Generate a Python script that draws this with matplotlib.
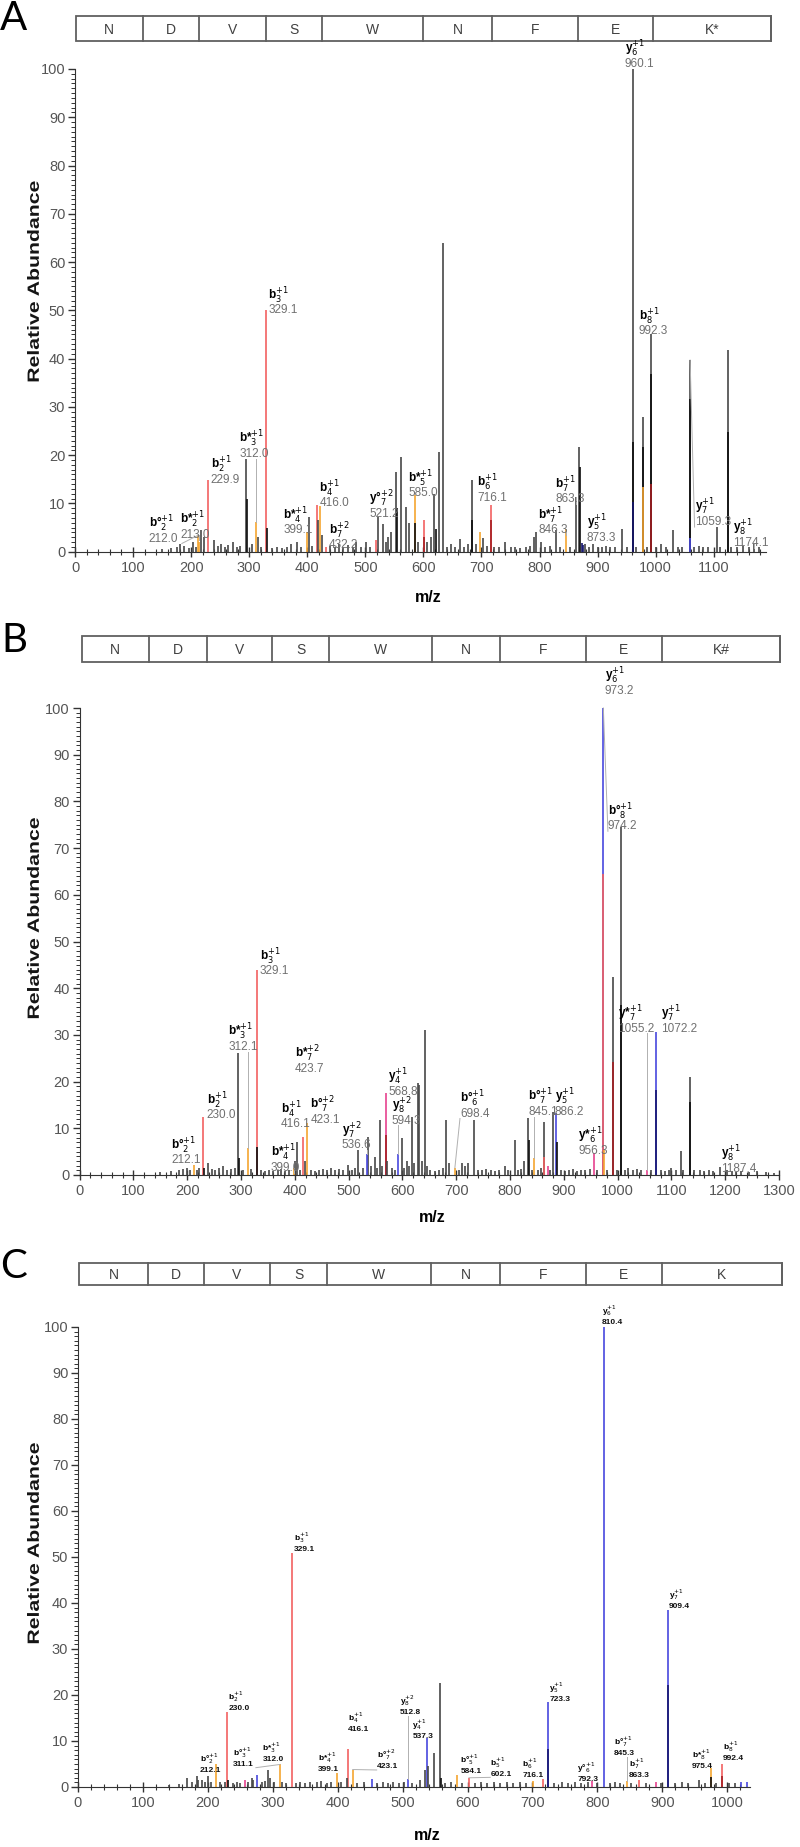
import matplotlib.pyplot as plt
from matplotlib.patches import Rectangle, PathPatch
from matplotlib.ticker import MultipleLocator
from matplotlib.textpath import TextPath
from matplotlib.font_manager import FontProperties
from matplotlib.transforms import Affine2D, IdentityTransform

plt.rcParams["font.family"] = ["Liberation Sans", "DejaVu Sans"]

W, H = 800, 1847

COLORS = {"other": "#474747", "dark": "#0d0d0d", "b": "#f26161", "b_dark": "#a51e22",
          "b_loss": "#f5a530", "y": "#4848de", "y_dark": "#16166e", "pink": "#e6428f"}

# ---------------- panel A : NDVSWNFEK* ----------------
a_residues = ["N", "D", "V", "S", "W", "N", "F", "E", "K*"]

a_other_mz = [150, 165, 176, 181, 188, 196, 203, 208, 217, 222,
              240, 246, 252, 258, 264, 272, 279, 285, 294.7, 304,
              315, 320, 340, 348, 356, 365, 372, 382, 389, 403.6,
              409, 418, 425, 440, 447, 455, 462, 470, 478, 484,
              492, 501, 508, 521.2, 530, 535, 538.4, 544, 552.7, 561.3,
              570, 575.7, 590, 607, 613, 618.7, 626, 633, 640, 648,
              655, 662.5, 670, 676, 682.9, 690, 703.3, 709, 722, 730,
              741, 750, 758, 766, 776, 783, 790, 793.6, 802, 810,
              818, 828.5, 835, 852, 863.4, 868, 878, 885, 892.6, 900,
              908, 915, 922, 930, 942, 950, 960.1, 966, 978, 985,
              992.3, 1000, 1010, 1018, 1030, 1038, 1045, 1059.3, 1066, 1075,
              1082, 1090, 1105, 1111, 1124, 1130, 1140, 1150, 1160, 1170,
              1178]
a_other_int = [0.6, 0.8, 1.0, 1.5, 1.2, 0.8, 2.0, 1.0, 4.5, 3.0,
               2.5, 1.2, 1.5, 1.0, 1.4, 2.0, 1.0, 1.2, 19.3, 1.5,
               3.0, 1.0, 0.8, 1.0, 0.7, 1.0, 1.5, 2.0, 1.0, 7.1,
               1.2, 6.5, 3.5, 1.2, 1.0, 1.5, 1.0, 1.3, 1.0, 2.0,
               1.0, 2.0, 1.0, 7.1, 5.7, 2.0, 3.0, 4.0, 16.6, 19.7,
               9.3, 6.0, 2.0, 2.0, 3.0, 12.0, 20.7, 64.0, 1.0, 1.5,
               1.0, 2.6, 1.0, 1.5, 14.8, 1.5, 2.8, 1.2, 1.0, 1.0,
               2.0, 1.0, 1.0, 0.8, 1.0, 1.2, 3.0, 4.1, 2.0, 1.0,
               1.2, 4.5, 1.0, 1.0, 11.4, 21.7, 1.5, 1.0, 1.5, 1.0,
               1.0, 1.2, 1.0, 1.0, 4.8, 1.0, 100.0, 1.0, 28.0, 1.0,
               45.2, 1.0, 1.5, 1.0, 4.5, 1.0, 1.0, 39.7, 1.0, 1.2,
               1.0, 1.0, 5.2, 1.0, 41.7, 1.0, 1.0, 1.2, 1.0, 1.5,
               1.0]
a_dark_mz = [296, 330, 554.5, 585.0, 621.6, 684, 870, 960.1, 978, 992.3, 1059.3, 1124]
a_dark_int = [11.0, 5.0, 9.0, 6.0, 4.8, 6.5, 17.6, 22.8, 21.7, 36.9, 31.7, 24.8]
a_b_mz = [229.9, 329.1, 416.0, 432.2, 518, 601.5, 716.1]
a_b_int = [14.8, 50.0, 9.7, 1.0, 2.5, 6.6, 9.7]
a_bdark_mz = [601.5, 716.1, 992.3]
a_bdark_int = [3.0, 6.5, 14.1]
a_bloss_mz = [212.0, 213.0, 312.0, 399.1, 422.6, 585.0, 697.5, 846.3, 978]
a_bloss_int = [3.4, 2.0, 6.2, 4.1, 9.4, 11.7, 4.1, 4.8, 13.4]
a_y_mz = [1059.3]
a_y_int = [2.8]
a_ydark_mz = [873.3, 875.5, 960.1]
a_ydark_int = [1.7, 1.4, 10.3]

a_lab_ion = ["b°", "b*", "b", "b*", "b", "b*", "b", "b", "y°", "b*", "b", "b*", "b", "y", "y", "b", "y", "y"]
a_lab_num = [2, 2, 2, 3, 3, 4, 4, 7, 7, 5, 6, 7, 7, 5, 6, 8, 7, 8]
a_lab_z = [1, 1, 1, 1, 1, 1, 1, 2, 2, 1, 1, 1, 1, 1, 1, 1, 1, 1]
a_lab_val = ["212.0", "213.0", "229.9", "312.0", "329.1", "399.1", "416.0", "432.2", "521.2",
             "585.0", "716.1", "846.3", "863.3", "873.3", "960.1", "992.3", "1059.3", "1174.1"]

# ---------------- panel B : NDVSWNFEK# ----------------
b_residues = ["N", "D", "V", "S", "W", "N", "F", "E", "K#"]

b_other_mz = [150, 170, 185, 192, 200, 205, 218, 222, 239, 246,
              252, 259.7, 267, 274, 281, 288, 295, 303, 318, 338,
              345, 352, 360, 368, 375, 382, 390, 400.9, 404.6, 410,
              419.5, 430, 438, 445, 452, 460, 468, 475, 483, 490,
              499.3, 506, 512, 518, 526, 536.5, 542, 548.9, 553, 558,
              562, 572, 580, 586, 598.4, 603, 607.7, 612, 617, 622,
              629.4, 631, 636, 641.8, 645, 652, 660, 668, 675, 681,
              686, 705, 711, 716, 722, 733.7, 740, 748, 756, 764,
              772, 780, 790.7, 797, 809, 815, 820, 826.5, 834, 840,
              852, 858, 863.7, 875, 880.4, 895, 902, 910, 918, 925,
              932, 940, 948, 962, 980, 991.8, 998, 1007.2, 1014, 1020,
              1028, 1036, 1044, 1062, 1080, 1088, 1095, 1100, 1108, 1117.4,
              1122, 1134, 1142, 1152.7, 1160, 1170, 1178, 1190, 1203, 1212,
              1220, 1230, 1245, 1260, 1275, 1290]
b_other_int = [0.6, 0.8, 1.0, 1.2, 1.5, 1.0, 1.0, 1.5, 2.5, 1.2,
               1.0, 1.5, 2.0, 1.0, 1.2, 1.5, 26.1, 1.0, 1.2, 1.0,
               0.8, 1.0, 0.8, 1.0, 1.2, 0.8, 1.0, 2.9, 7.1, 1.0,
               3.0, 1.0, 0.8, 1.0, 1.2, 1.0, 1.5, 1.0, 1.2, 1.0,
               2.1, 1.0, 1.5, 5.4, 1.5, 8.2, 2.0, 3.9, 1.5, 11.8,
               2.0, 3.0, 1.5, 1.0, 7.9, 1.5, 3.0, 2.0, 12.5, 2.5,
               19.6, 19.3, 3.0, 31.0, 2.0, 1.0, 0.8, 1.0, 1.5, 11.8,
               2.5, 1.0, 2.5, 2.0, 2.5, 11.8, 1.0, 1.0, 1.2, 1.0,
               0.8, 1.0, 2.0, 1.0, 7.4, 1.0, 1.2, 3.0, 12.1, 1.0,
               1.0, 1.5, 11.4, 1.0, 13.4, 1.0, 0.8, 1.0, 1.2, 0.8,
               1.0, 1.0, 1.2, 1.0, 1.0, 42.5, 1.0, 74.6, 1.0, 1.5,
               1.0, 1.2, 1.0, 1.0, 1.0, 0.8, 1.0, 1.5, 1.0, 5.2,
               1.0, 20.9, 1.0, 1.0, 0.8, 1.0, 0.8, 1.8, 1.0, 0.8,
               0.6, 0.8, 0.6, 0.8, 0.6, 0.5]
b_dark_mz = [232, 296, 330, 835.8, 888, 1007.2, 1134]
b_dark_int = [1.5, 3.6, 6.1, 7.5, 7.1, 36.4, 15.7]
b_b_mz = [230.0, 329.1, 416.1, 863.7, 973.5]
b_b_int = [12.5, 44.0, 8.2, 3.9, 64.5]
b_bdark_mz = [568.8, 991.8]
b_bdark_int = [8.6, 24.3]
b_bloss_mz = [212.1, 312.1, 399.0, 423.1, 697.5, 845.1, 974.2]
b_bloss_int = [2.1, 5.7, 1.4, 11.1, 1.5, 3.6, 5.4]
b_y_mz = [534.6, 592.2, 886.2, 973.2, 1072.2]
b_y_int = [4.6, 4.6, 13.2, 100.0, 30.7]
b_ydark_mz = [1072.2]
b_ydark_int = [18.2]
b_pink_mz = [568.8, 869.9, 956.3, 1055.2]
b_pink_int = [17.5, 2.0, 4.8, 1.0]

b_lab_ion = ["b°", "b", "b*", "b", "b*", "b", "b*", "b°", "y", "y", "y", "b°", "b°", "y", "y*", "y",
             "b°", "y*", "y", "y"]
b_lab_num = [2, 2, 3, 3, 4, 4, 7, 7, 7, 4, 8, 6, 7, 5, 6, 6, 8, 7, 7, 8]
b_lab_z = [1, 1, 1, 1, 1, 1, 2, 2, 2, 1, 2, 1, 1, 1, 1, 1, 1, 1, 1, 1]
b_lab_val = ["212.1", "230.0", "312.1", "329.1", "399.0", "416.1", "423.7", "423.1", "536.6", "568.8",
             "594.3", "698.4", "845.1", "886.2", "956.3", "973.2", "974.2", "1055.2", "1072.2", "1187.4"]

# ---------------- panel C : NDVSWNFEK ----------------
c_residues = ["N", "D", "V", "S", "W", "N", "F", "E", "K"]

c_other_mz = [140, 155, 167.4, 175, 182.8, 185, 190.5, 196, 200.7, 205,
              218.7, 226.4, 238, 245, 250, 262, 267.5, 269, 282.9, 288,
              293.1, 295.7, 302, 313.7, 320, 335, 342, 350, 357, 367.6,
              375, 383, 390, 405, 413.8, 430, 440, 460, 470, 478,
              485.6, 495, 502, 515, 526.7, 534.4, 539.5, 548.3, 557.5, 566,
              574, 592, 612, 620, 630, 640, 650, 660, 670, 680,
              690, 733, 745, 755, 765, 775, 785, 800, 820, 827.7,
              835, 852, 875, 898, 920, 930, 940, 956, 965, 983,
              1003, 1012]
c_other_int = [0.5, 0.6, 2.0, 1.0, 2.5, 1.5, 1.5, 1.0, 2.3, 1.0,
               1.0, 1.0, 0.8, 1.0, 0.8, 1.0, 2.0, 1.5, 1.0, 1.2,
               3.6, 2.0, 1.0, 1.0, 0.8, 0.8, 1.0, 0.8, 1.0, 1.0,
               1.2, 0.8, 1.0, 1.0, 2.0, 0.8, 1.0, 0.8, 1.0, 0.8,
               1.0, 0.8, 1.0, 0.8, 1.5, 3.8, 4.5, 7.4, 22.6, 0.8,
               1.0, 0.8, 0.8, 1.0, 0.8, 1.0, 0.8, 1.0, 0.8, 1.0,
               0.8, 0.8, 1.0, 0.8, 1.0, 0.8, 1.0, 0.8, 0.8, 1.0,
               0.8, 0.8, 0.8, 0.8, 0.8, 1.0, 0.8, 1.5, 0.8, 0.8,
               0.8, 0.8]
c_dark_mz = [231.5, 558.5, 975.4]
c_dark_int = [1.6, 2.0, 2.2]
c_b_mz = [230.0, 329.1, 416.1, 602.1, 716.1, 863.3, 992.4]
c_b_int = [16.4, 50.9, 8.3, 2.0, 1.8, 1.6, 5.1]
c_bdark_mz = [992.4]
c_bdark_int = [2.5]
c_bloss_mz = [212.1, 311.1, 399.1, 423.1, 584.1, 700.9, 845.3, 975.4]
c_bloss_int = [4.9, 4.9, 3.0, 3.8, 2.7, 1.3, 1.3, 4.2]
c_y_mz = [275.2, 452.3, 508.7, 537.3, 723.3, 810.4, 909.4, 1021.7, 1030]
c_y_int = [2.7, 1.7, 1.8, 10.6, 18.5, 100.0, 38.4, 1.0, 1.0]
c_ydark_mz = [723.3, 909.4]
c_ydark_int = [8.3, 22.1]
c_pink_mz = [257.2, 792.3, 890]
c_pink_int = [1.5, 1.3, 1.0]

c_lab_ion = ["b°", "b", "b°", "b*", "b", "b*", "b", "b°", "y", "y", "b°", "b", "b", "y", "y°", "y",
             "b°", "b", "y", "b*", "b"]
c_lab_num = [2, 2, 3, 3, 3, 4, 4, 7, 8, 4, 5, 5, 6, 5, 6, 6, 7, 7, 7, 8, 8]
c_lab_z = [1, 1, 1, 1, 1, 1, 1, 2, 2, 1, 1, 1, 1, 1, 1, 1, 1, 1, 1, 1, 1]
c_lab_val = ["212.1", "230.0", "311.1", "312.0", "329.1", "399.1", "416.1", "423.1", "512.8", "537.3",
             "584.1", "602.1", "716.1", "723.3", "792.3", "810.4", "845.3", "863.3", "909.4", "975.4",
             "992.4"]

# ---------------- layout (pixels of the 800 x 1847 canvas) ----------------
# label anchor (m/z, intensity) of the value line, and m/z of the peak a leader goes to
a_lab_pos = [(127, 2.1), (181, 2.8), (234, 14.3), (283, 19.7), (333, 49.4), (359, 3.8),
             (421, 9.4), (437, 0.7), (507, 7.2), (574, 11.5), (693, 10.6), (798, 3.8),
             (827, 10.2), (881, 2.3), (947, 100.4), (971, 45.0), (1067, 5.5), (1134, 1.2)]
a_lab_lead = [212.0, 213.0, None, 312.0, None, None, None, None, None, None, None, 846.3,
              863.4, None, None, None, 1059.3, 1170]
b_lab_pos = [(170, 2.5), (236, 12.1), (276, 26.8), (335, 43.0), (355, 0.9), (374, 10.2),
             (400, 22.1), (429, 11.1), (487, 5.7), (574, 17.1), (580, 11.0), (707, 12.5),
             (834, 12.9), (883, 12.9), (927, 4.6), (976, 103.0), (982, 74.0), (1000, 30.7),
             (1080, 30.7), (1193, 0.7)]
b_lab_lead = [212.1, None, 312.1, None, 399.0, None, None, None, 534.6, None, 592.2, 697.5,
              845.1, None, None, None, 973.5, 1055.2, None, None]
c_lab_pos = [(188, 3.2), (231.5, 16.8), (238, 4.6), (284, 5.6), (332, 51.3), (370, 3.4),
             (416, 12.1), (460, 4.1), (496, 15.9), (515, 10.6), (589, 3.0), (635, 2.5),
             (684, 2.2), (726, 18.7), (769, 1.4), (807, 100.6), (825, 6.9), (848, 2.2),
             (910, 39.0), (946, 4.2), (993, 5.8)]
c_lab_lead = [None, None, 311.1, None, None, None, None, 423.1, 508.7, None, None, 602.1,
              None, None, None, None, 845.3, None, None, None, None]

PANELS = [
    dict(letter="A", letter_xy=(14, 18), box=(16, 41), edges=[75.5, 143, 199, 266, 322, 423, 492, 578, 653, 771],
         res=a_residues, axes=(75, 69, 766, 551.7), xmax=1190, mz_label=(428, 597), ylab_at=56,
         series=dict(other=(a_other_mz, a_other_int), dark=(a_dark_mz, a_dark_int), b=(a_b_mz, a_b_int),
                     b_dark=(a_bdark_mz, a_bdark_int), b_loss=(a_bloss_mz, a_bloss_int),
                     y=(a_y_mz, a_y_int), y_dark=(a_ydark_mz, a_ydark_int)),
         labels=(a_lab_ion, a_lab_num, a_lab_z, a_lab_val, a_lab_pos, a_lab_lead), small=False),
    dict(letter="B", letter_xy=(14, 640), box=(636, 662), edges=[81.7, 149, 207, 272, 329, 432, 500, 586, 662, 780],
         res=b_residues, axes=(79.6, 708, 779, 1175), xmax=1300, mz_label=(432, 1218), ylab_at=55,
         series=dict(other=(b_other_mz, b_other_int), dark=(b_dark_mz, b_dark_int), b=(b_b_mz, b_b_int),
                     b_dark=(b_bdark_mz, b_bdark_int), b_loss=(b_bloss_mz, b_bloss_int),
                     y=(b_y_mz, b_y_int), y_dark=(b_ydark_mz, b_ydark_int), pink=(b_pink_mz, b_pink_int)),
         labels=(b_lab_ion, b_lab_num, b_lab_z, b_lab_val, b_lab_pos, b_lab_lead), small=False),
    dict(letter="C", letter_xy=(14, 1266), box=(1263, 1285), edges=[79, 148, 204, 270, 327, 431, 500, 586, 662, 782],
         res=c_residues, axes=(78, 1327, 750, 1787), xmax=1035, mz_label=(427, 1836), ylab_at=53,
         series=dict(other=(c_other_mz, c_other_int), dark=(c_dark_mz, c_dark_int), b=(c_b_mz, c_b_int),
                     b_dark=(c_bdark_mz, c_bdark_int), b_loss=(c_bloss_mz, c_bloss_int),
                     y=(c_y_mz, c_y_int), y_dark=(c_ydark_mz, c_ydark_int), pink=(c_pink_mz, c_pink_int)),
         labels=(c_lab_ion, c_lab_num, c_lab_z, c_lab_val, c_lab_pos, c_lab_lead), small=True),
]

fig = plt.figure(figsize=(W / 100, H / 100), dpi=100)
deco = fig.add_axes([0, 0, 1, 1])
deco.set_xlim(0, W)
deco.set_ylim(H, 0)
deco.axis("off")


def peak_height(series, mz):
    best = 0
    for m_list, i_list in series.values():
        for m, i in zip(m_list, i_list):
            if abs(m - mz) < 1.5:
                best = max(best, i)
    return best


def narrow_vertical_label(x, y, s, length, thickness):
    # tall, condensed rotated axis title, drawn as an outline in canvas pixels
    tp = TextPath((0, 0), s, size=50, prop=FontProperties(family="Liberation Sans", weight="bold"))
    bb = tp.get_extents()
    tr = (Affine2D().translate(-(bb.x0 + bb.x1) / 2, -(bb.y0 + bb.y1) / 2)
          .scale(length / bb.width, thickness / bb.height)
          .rotate_deg(90)
          .translate(x, H - y))
    fig.add_artist(PathPatch(tr.transform_path(tp), fc="#151515", ec="none", transform=IdentityTransform()))


for p in PANELS:
    # sequence box and panel letter
    top, bottom = p["box"]
    edges = p["edges"]
    deco.add_patch(Rectangle((edges[0], top), edges[-1] - edges[0], bottom - top,
                             fill=False, ec="#606060", lw=1.3))
    for x0, x1, r in zip(edges[:-1], edges[1:], p["res"]):
        deco.plot([x1, x1], [top, bottom], color="#606060", lw=1.3)
        deco.text((x0 + x1) / 2, (top + bottom) / 2 + 1, r, ha="center", va="center",
                  fontsize=10, color="#404040")
    deco.text(*p["letter_xy"], p["letter"], ha="center", va="center", fontsize=29,
              family=["Lato", "DejaVu Sans"])

    left, atop, right, abot = p["axes"]
    ylab_y = abot - (abot - atop) * p["ylab_at"] / 100
    narrow_vertical_label(33, ylab_y, "Relative Abundance", 200, 12)
    deco.text(*p["mz_label"], "m/z", ha="center", va="center", fontsize=11.5, fontweight="bold")

    ax = fig.add_axes([left / W, 1 - abot / H, (right - left) / W, (abot - atop) / H])
    ax.patch.set_alpha(0)

    segs = []
    for kind, (m_list, i_list) in p["series"].items():
        segs += [(m, i, COLORS[kind]) for m, i in zip(m_list, i_list)]
    segs.sort(key=lambda s: -s[1])
    ax.vlines([s[0] for s in segs], 0, [s[1] for s in segs], colors=[s[2] for s in segs],
              lw=1.2, clip_on=False)

    ax.set_xlim(0, p["xmax"])
    ax.set_ylim(0, 100)
    for s in ("top", "right"):
        ax.spines[s].set_visible(False)
    for s in ("left", "bottom"):
        ax.spines[s].set_color("#333333")
    ax.xaxis.set_major_locator(MultipleLocator(100))
    ax.xaxis.set_minor_locator(MultipleLocator(20))
    ax.yaxis.set_major_locator(MultipleLocator(10))
    ax.yaxis.set_minor_locator(MultipleLocator(1))
    ax.tick_params(axis="x", which="major", direction="inout", length=7, width=1, colors="#333333",
                   labelcolor="#555555", labelsize=10.5, pad=3)
    ax.tick_params(axis="x", which="minor", direction="inout", length=4, width=0.8, colors="#333333")
    ax.tick_params(axis="y", which="major", direction="out", length=5, width=1, colors="#333333",
                   labelcolor="#555555", labelsize=10.5, pad=2)
    ax.tick_params(axis="y", which="minor", direction="out", length=3, width=0.7, colors="#333333")

    # peak annotations
    ions, nums, zs, vals, poss, leads = p["labels"]
    fs = 6 if p["small"] else 8.5
    px_per_mz = (right - left) / p["xmax"]
    for ion, n, z, val, (tx, ty), lead in zip(ions, nums, zs, vals, poss, leads):
        name = f"{ion}$_{{{n}}}^{{+{z}}}$"
        ax.text(tx, ty, val, fontsize=fs, color="#111111" if p["small"] else "#707070",
                fontweight="bold" if p["small"] else "normal", va="baseline", clip_on=False)
        ax.annotate(name, xy=(tx, ty), xytext=(0, fs + 1.5), textcoords="offset points",
                    fontsize=fs, fontweight="bold", color="black", va="baseline", annotation_clip=False)
        if lead is not None:
            width = 0.56 * fs * 1.39 * len(val) / px_per_mz
            x_start = min(max(lead, tx), tx + width)
            h = peak_height(p["series"], lead)
            ax.plot([x_start, lead], [ty - 0.4, h], color="#b0b0b0", lw=0.7, clip_on=False)

fig.savefig("out.png", dpi=100)
